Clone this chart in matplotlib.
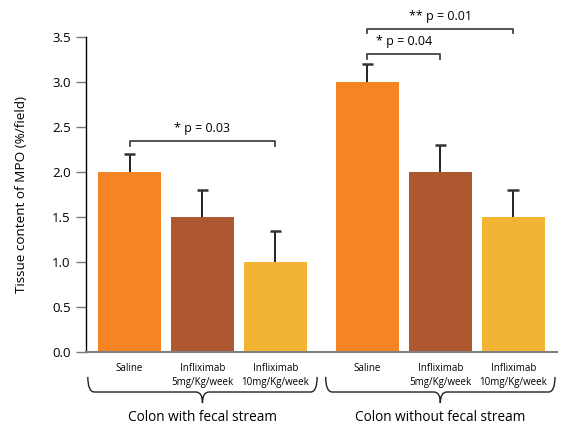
import matplotlib.pyplot as plt
from matplotlib.path import Path
from matplotlib.patches import PathPatch
import matplotlib.transforms as mtransforms

# data
treatments = ["Saline", "Infliximab\n5mg/Kg/week", "Infliximab\n10mg/Kg/week"]
groups = ["Colon with fecal stream", "Colon without fecal stream"]
with_stream = [2.0, 1.5, 1.0]
with_stream_err = [0.2, 0.3, 0.35]
without_stream = [3.0, 2.0, 1.5]
without_stream_err = [0.2, 0.3, 0.3]
colors = ["#F58523", "#AF5731", "#F2B533"]

# significance brackets: (group index, bar a, bar b, label, height)
sig_marks = [
    (0, 0, 2, "* p = 0.03", 2.34),
    (1, 0, 1, "* p = 0.04", 3.31),
    (1, 0, 2, "** p = 0.01", 3.59),
]

plt.rcParams['font.family'] = ['Open Sans', 'DejaVu Sans']

fig = plt.figure(figsize=(5.67, 4.26), dpi=100)
ax = fig.add_axes([0.1517, 0.1737, 0.8303, 0.7394])

group_offset = [0.0, 3.26]
bar_width = 0.863
cap_half = 0.08
xs = []
values = [with_stream, without_stream]
errors = [with_stream_err, without_stream_err]
for g in range(2):
    pos = [group_offset[g] + i for i in range(len(treatments))]
    xs.append(pos)
    ax.bar(pos, values[g], width=bar_width, color=colors, zorder=2)
    # upper-only error bars
    tops = [v + e for v, e in zip(values[g], errors[g])]
    ax.vlines(pos, values[g], tops, color='#111111', lw=1.3, zorder=3)
    ax.hlines(tops, [p - cap_half for p in pos], [p + cap_half for p in pos],
              color='#333333', lw=1.8, zorder=3)

ax.set_xlim(-0.596, 5.856)
ax.set_ylim(0, 3.5)
ax.set_yticks([0, 0.5, 1.0, 1.5, 2.0, 2.5, 3.0, 3.5])
ax.set_yticklabels(["%.1f" % v for v in ax.get_yticks()], fontsize=9.5)
ax.tick_params(axis='y', direction='out', length=7, width=1, color='#777777', pad=4)
ax.set_ylabel("Tissue content of MPO (%/field)", fontsize=9.7, labelpad=17)

ax.set_xticks(xs[0] + xs[1])
ax.set_xticklabels(treatments * 2, fontsize=7.0, linespacing=1.4)
ax.tick_params(axis='x', length=0, pad=8)

ax.spines['top'].set_visible(False)
ax.spines['right'].set_visible(False)
ax.spines['left'].set_color('black')
ax.spines['left'].set_linewidth(1.0)
ax.spines['bottom'].set_color('#808080')
ax.spines['bottom'].set_linewidth(1.5)

# significance brackets
for g, a, b, label, h in sig_marks:
    xa, xb = xs[g][a], xs[g][b]
    ax.plot([xa, xa, xb, xb], [h - 0.05, h, h, h - 0.05], color='#444444',
            lw=1.3, clip_on=False, zorder=4)
    ax.text((xa + xb) / 2, h + 0.07, label, ha='center', va='bottom', fontsize=9)

# curly braces under each group
trans = mtransforms.blended_transform_factory(ax.transData, ax.transAxes)
top, bot, tip = -0.079, -0.127, -0.162
r = 0.09
for g in range(2):
    x0 = xs[g][0] - bar_width / 2 - 0.14
    x1 = xs[g][-1] + bar_width / 2 + 0.14
    xm = (x0 + x1) / 2
    verts = [(x0, top), (x0, bot), (x0 + r, bot),
             (xm - r, bot), (xm, bot), (xm, tip),
             (xm, tip), (xm, bot), (xm + r, bot),
             (x1 - r, bot), (x1, bot), (x1, top)]
    codes = [Path.MOVETO, Path.CURVE3, Path.CURVE3,
             Path.LINETO, Path.CURVE3, Path.CURVE3,
             Path.MOVETO, Path.CURVE3, Path.CURVE3,
             Path.LINETO, Path.CURVE3, Path.CURVE3]
    ax.add_patch(PathPatch(Path(verts, codes), transform=trans, fill=False,
                           edgecolor='#222222', lw=1.0, clip_on=False))
    ax.text(xm, -0.209, groups[g], transform=trans, ha='center', va='center',
            fontsize=9.8)

fig.savefig("out.png", dpi=100)
